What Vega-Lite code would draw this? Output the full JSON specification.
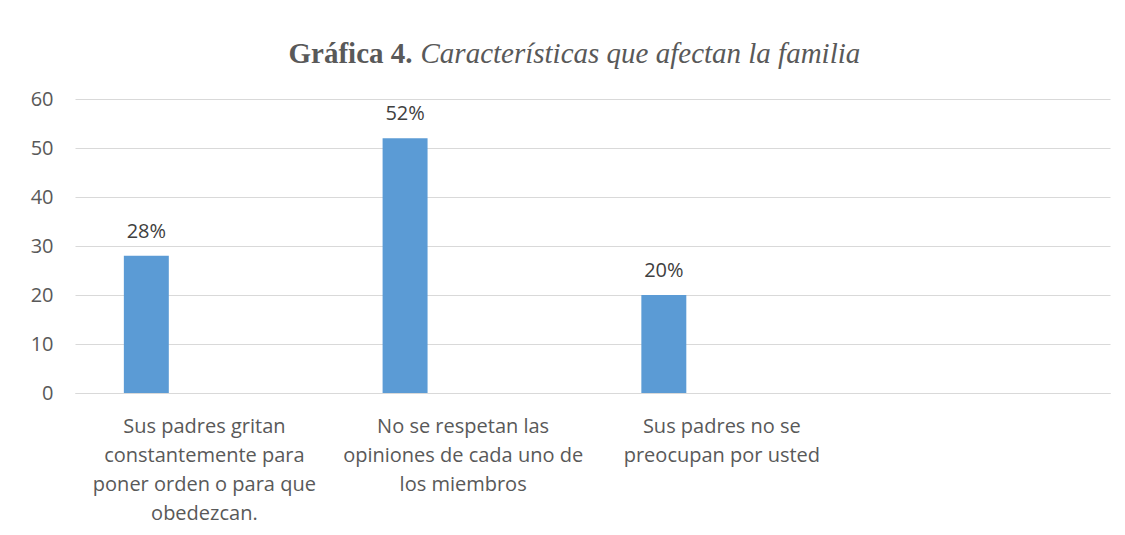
{
  "$schema": "https://vega.github.io/schema/vega-lite/v6.json",
  "width": 1035,
  "height": 294,
  "autosize": {"type": "none"},
  "padding": {"left": 75, "top": 99, "right": 15, "bottom": 142},
  "background": "white",
  "config": {"view": {"stroke": null}},
  "data": {
    "values": [
      {"cat": "Sus padres gritan|constantemente para|poner orden o para que|obedezcan.", "serie": "A", "value": 28, "label": "28%"},
      {"cat": "No se respetan las|opiniones de cada uno de|los miembros", "serie": "A", "value": 52, "label": "52%"},
      {"cat": "Sus padres no se|preocupan por usted", "serie": "A", "value": 20, "label": "20%"}
    ]
  },
  "encoding": {
    "x": {
      "field": "cat",
      "type": "nominal",
      "sort": null,
      "scale": {
        "domain": ["Sus padres gritan|constantemente para|poner orden o para que|obedezcan.", "No se respetan las|opiniones de cada uno de|los miembros", "Sus padres no se|preocupan por usted", " "],
        "paddingInner": 0,
        "paddingOuter": 0
      },
      "axis": {
        "title": "Características que afectan la familia",
        "titleFont": "Liberation Serif",
        "titleFontSize": 29,
        "titleFontStyle": "italic",
        "titleFontWeight": "normal",
        "titleColor": "#595959",
        "titleAngle": 0,
        "titleAlign": "left",
        "titleBaseline": "alphabetic",
        "titleX": 345,
        "titleY": -331,
        "labelExpr": "split(datum.value, '|')",
        "labelAngle": 0,
        "labelFont": "Open Sans",
        "labelFontSize": 20,
        "labelColor": "#595959",
        "labelLineHeight": 29,
        "labelBaseline": "top",
        "labelPadding": 23,
        "labelLimit": 400,
        "labelOverlap": false,
        "labelBound": false,
        "ticks": false,
        "domain": true,
        "domainColor": "#d9d9d9",
        "domainWidth": 1,
        "grid": false
      }
    },
    "xOffset": {
      "field": "serie",
      "type": "nominal",
      "scale": {"domain": ["A", "B"], "paddingInner": 0.6127, "paddingOuter": 0.4208}
    },
    "y": {
      "field": "value",
      "type": "quantitative",
      "scale": {"domain": [0, 60], "nice": false},
      "axis": {
        "values": [0, 10, 20, 30, 40, 50, 60],
        "title": "Gráfica 4.",
        "titleFont": "Liberation Serif",
        "titleFontSize": 29,
        "titleFontWeight": "bold",
        "titleColor": "#595959",
        "titleAngle": 0,
        "titleAlign": "left",
        "titleBaseline": "alphabetic",
        "titleX": 213,
        "titleY": -37,
        "labelFont": "Open Sans",
        "labelFontSize": 20,
        "labelColor": "#595959",
        "labelPadding": 22,
        "ticks": false,
        "domain": false,
        "grid": true,
        "gridColor": "#d9d9d9",
        "gridWidth": 1
      }
    }
  },
  "layer": [
    {"mark": {"type": "bar", "color": "#5b9bd5"}},
    {
      "mark": {"type": "text", "font": "Open Sans", "fontSize": 20, "color": "#404040", "baseline": "alphabetic", "align": "center", "dy": -18},
      "encoding": {"text": {"field": "label"}}
    }
  ]
}
